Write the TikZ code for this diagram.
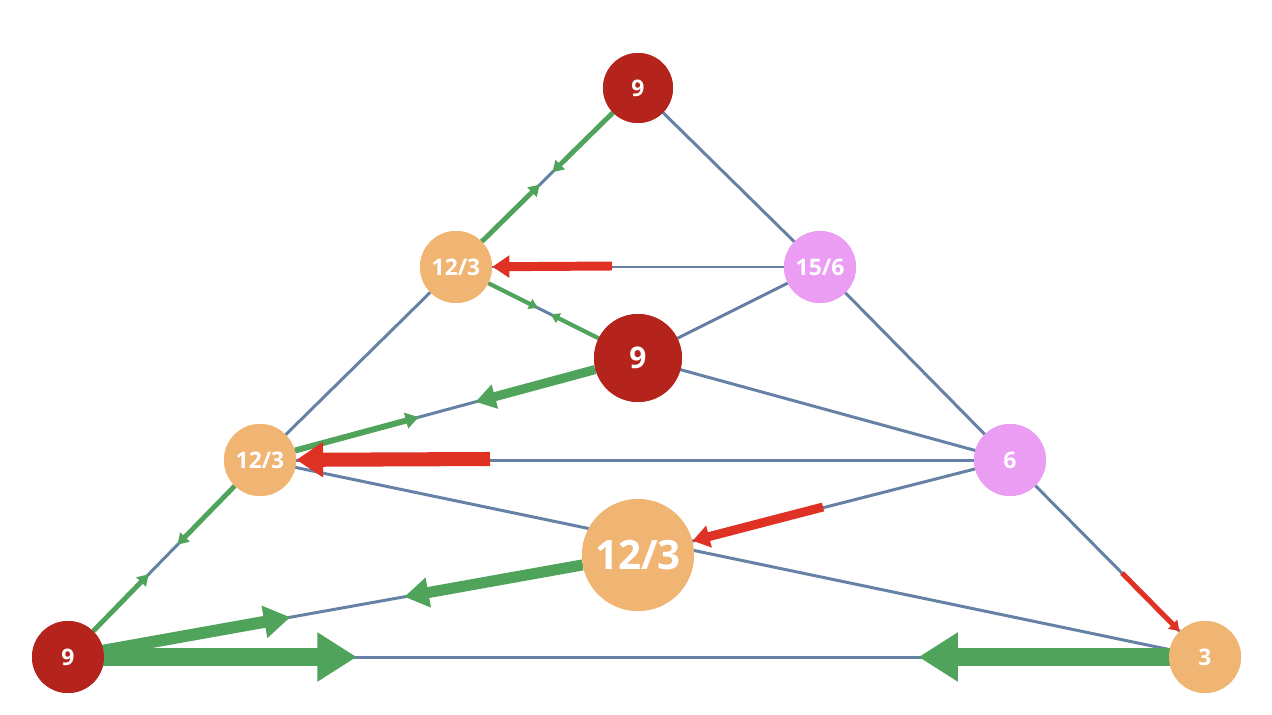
\documentclass[tikz,border=0pt]{standalone}
\usepackage{fontspec}
\setmainfont{Open Sans}
\usetikzlibrary{arrows.meta,calc}
\definecolor{eb}{HTML}{6582A6}
\definecolor{eg}{HTML}{4FA35A}
\definecolor{er}{HTML}{E03125}
\definecolor{dr}{HTML}{B5241C}
\definecolor{or}{HTML}{F1B573}
\definecolor{pk}{HTML}{EB9DF3}
\tikzset{
  nd/.style={circle,inner sep=0pt,minimum size=#1,text=white,font=\bfseries},
  blue edge/.style={draw=eb,line width=1.7pt},
  flow/.style={draw=eg,line width=#1,-{Triangle[length=0pt 2.2,width=0pt 2.6]}},
  redflow/.style={draw=er,line width=#1,-{Triangle[length=0pt 1.9,width=0pt 2.4]}},
}
\begin{document}
\begin{tikzpicture}[x=0.02cm,y=-0.02cm]
\useasboundingbox (0,0) rectangle (1272,714);
\coordinate (T) at (638,88);
\coordinate (A) at (456,267);
\coordinate (B) at (820,267);
\coordinate (C) at (638,358);
\coordinate (D) at (260,460);
\coordinate (E) at (1010,460);
\coordinate (F) at (638,555);
\coordinate (G) at (68,657);
\coordinate (H) at (1205,657);
% blue edges
\foreach \a/\b in {T/A,T/B,A/B,A/C,B/C,B/E,A/D,C/D,C/E,D/E,D/H,E/F,E/H,D/G,F/G,G/H}
  \draw[blue edge] (\a) -- (\b);
% nodes (drawn for later border references)
\node[nd=1.4cm,fill=dr,font=\bfseries\fontsize{13}{13}\selectfont] (nT) at (T) {9};
\node[nd=1.44cm,fill=or,font=\bfseries\fontsize{13}{13}\selectfont] (nA) at (A) {12/3};
\node[nd=1.44cm,fill=pk,font=\bfseries\fontsize{13}{13}\selectfont] (nB) at (B) {15/6};
\node[nd=1.76cm,fill=dr,font=\bfseries\fontsize{17}{17}\selectfont] (nC) at (C) {9};
\node[nd=1.44cm,fill=or,font=\bfseries\fontsize{13}{13}\selectfont] (nD) at (D) {12/3};
\node[nd=1.44cm,fill=pk,font=\bfseries\fontsize{13}{13}\selectfont] (nE) at (E) {6};
\node[nd=2.24cm,fill=or,font=\bfseries\fontsize{23}{23}\selectfont] (nF) at (F) {12/3};
\node[nd=1.44cm,fill=dr,font=\bfseries\fontsize{13}{13}\selectfont] (nG) at (G) {9};
\node[nd=1.44cm,fill=or,font=\bfseries\fontsize{13}{13}\selectfont] (nH) at (H) {3};
% green flows
\begin{scope}[on background layer/.style={}]
\draw[flow=2.8pt] (nT) -- ($(T)!0.47!(A)$);
\draw[flow=2.8pt] (nA) -- ($(A)!0.46!(T)$);
\draw[flow=2.3pt] (nA) -- ($(A)!0.45!(C)$);
\draw[flow=2.3pt] (nC) -- ($(C)!0.48!(A)$);
\draw[flow=2.8pt] (nD) -- ($(D)!0.43!(G)$);
\draw[flow=2.8pt] (nG) -- ($(G)!0.42!(D)$);
\draw[flow=3.4pt] (nD) -- ($(D)!0.42!(C)$);
\draw[flow=5.2pt] (nC) -- ($(C)!0.43!(D)$);
\draw[flow=6.8pt] (G) -- ($(G)!0.39!(F)$);
\draw[flow=6.3pt] (nF) -- ($(F)!0.41!(G)$);
\draw[flow=10.2pt] (G) -- ($(G)!0.254!(H)$);
\draw[flow=10.2pt] (H) -- ($(H)!0.252!(G)$);
% red flows
\draw[redflow=5.1pt] (612,266) -- (nA);
\draw[redflow=8pt] (490,459) -- (nD);
\draw[redflow=5.1pt] (823,507) -- (nF);
\draw[redflow=2.9pt] (1122,573) -- (nH);
\end{scope}
% redraw nodes on top
\node[nd=1.4cm,fill=dr,font=\bfseries\fontsize{13}{13}\selectfont] at (T) {9};
\node[nd=1.44cm,fill=or,font=\bfseries\fontsize{13}{13}\selectfont] at (A) {12/3};
\node[nd=1.44cm,fill=pk,font=\bfseries\fontsize{13}{13}\selectfont] at (B) {15/6};
\node[nd=1.76cm,fill=dr,font=\bfseries\fontsize{17}{17}\selectfont] at (C) {9};
\node[nd=1.44cm,fill=or,font=\bfseries\fontsize{13}{13}\selectfont] at (D) {12/3};
\node[nd=1.44cm,fill=pk,font=\bfseries\fontsize{13}{13}\selectfont] at (E) {6};
\node[nd=2.24cm,fill=or,font=\bfseries\fontsize{23}{23}\selectfont] at (F) {12/3};
\node[nd=1.44cm,fill=dr,font=\bfseries\fontsize{13}{13}\selectfont] at (G) {9};
\node[nd=1.44cm,fill=or,font=\bfseries\fontsize{13}{13}\selectfont] at (H) {3};
\end{tikzpicture}
\end{document}
